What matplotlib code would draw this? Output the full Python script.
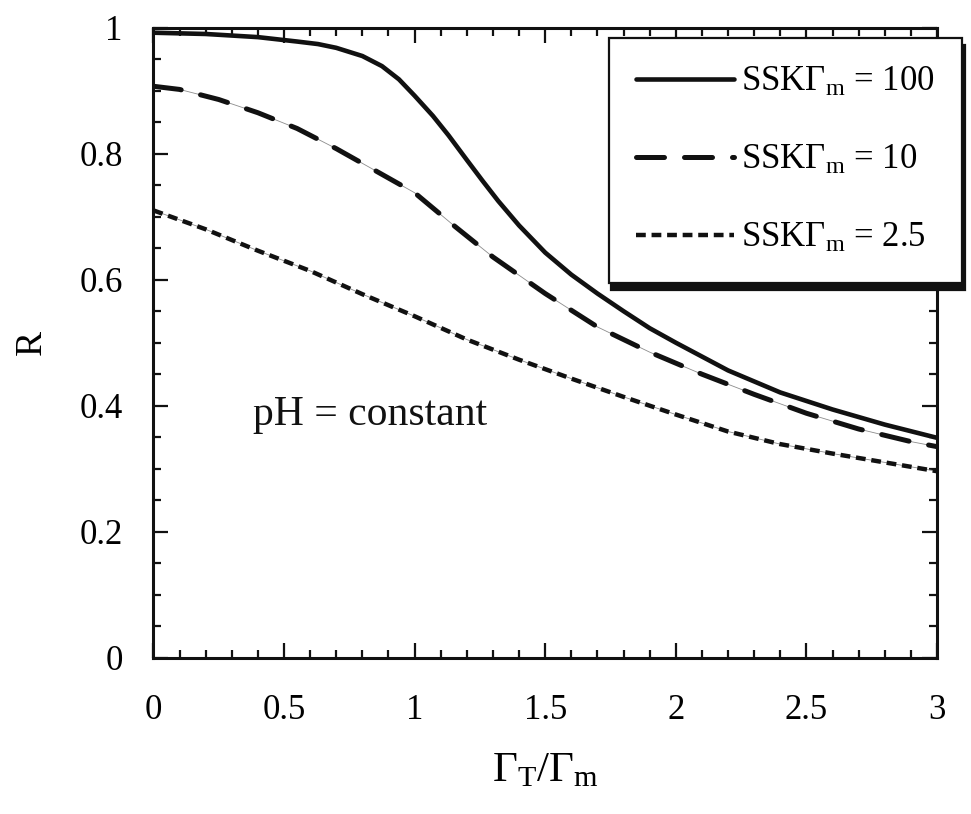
import numpy as np
import matplotlib
matplotlib.use("Agg")
import matplotlib.pyplot as plt
import matplotlib.ticker as ticker

matplotlib.rcParams["font.family"] = "serif"
matplotlib.rcParams["font.serif"] = ["Liberation Serif", "DejaVu Serif"]
matplotlib.rcParams["mathtext.fontset"] = "custom"
matplotlib.rcParams["mathtext.rm"] = "Liberation Serif"
matplotlib.rcParams["mathtext.it"] = "Liberation Serif:italic"
matplotlib.rcParams["mathtext.bf"] = "Liberation Serif:bold"

# R vs Gamma_T/Gamma_m at constant pH, three SSK*Gamma_m values
x_100 = [0, 0.2, 0.4, 0.55, 0.63, 0.7, 0.8, 0.875, 0.94, 1.0, 1.07, 1.13,
         1.2, 1.26, 1.32, 1.4, 1.5, 1.6, 1.7, 1.8, 1.9, 2.0, 2.2, 2.4, 2.6,
         2.8, 3.0]
r_100 = [0.992, 0.990, 0.985, 0.978, 0.974, 0.968, 0.955, 0.939, 0.918,
         0.892, 0.860, 0.829, 0.790, 0.757, 0.725, 0.686, 0.643, 0.608,
         0.578, 0.550, 0.523, 0.500, 0.456, 0.421, 0.394, 0.370, 0.349]

x_10 = [0, 0.1, 0.25, 0.4, 0.55, 0.7, 0.85, 1.0, 1.15, 1.3, 1.5, 1.7, 1.9,
        2.1, 2.3, 2.5, 2.7, 2.9, 3.0]
r_10 = [0.907, 0.902, 0.886, 0.865, 0.840, 0.808, 0.773, 0.738, 0.686,
        0.636, 0.578, 0.525, 0.485, 0.450, 0.418, 0.388, 0.363, 0.343, 0.335]

x_25 = [0, 0.2, 0.4, 0.6, 0.8, 1.0, 1.2, 1.4, 1.6, 1.8, 2.0, 2.2, 2.4, 2.6,
        2.8, 3.0]
r_25 = [0.710, 0.680, 0.646, 0.614, 0.577, 0.542, 0.505, 0.473, 0.443,
        0.414, 0.386, 0.359, 0.339, 0.324, 0.310, 0.296]

labels = [r"SSK$\Gamma_\mathrm{m}$ = 100",
          r"SSK$\Gamma_\mathrm{m}$ = 10",
          r"SSK$\Gamma_\mathrm{m}$ = 2.5"]

fig = plt.figure(figsize=(9.71, 8.14), dpi=100)
ax = fig.add_axes([0.158, 0.192, 0.807, 0.774])

ink = "#111111"

ax.plot(x_100, r_100, color=ink, lw=3.3, solid_capstyle="round",
        solid_joinstyle="round", label=labels[0])

# thin trace between the dashes
ax.plot(x_10, r_10, color="0.55", lw=0.6)
ax.plot(x_10, r_10, color=ink, lw=3.6, dashes=(5.6, 4.0),
        dash_capstyle="round", label=labels[1])

ax.plot(x_25, r_25, color="0.55", lw=0.6)
ax.plot(x_25, r_25, color=ink, lw=3.2, dashes=(2.2, 1.3),
        label=labels[2])

ax.set_xlim(0, 3)
ax.set_ylim(0, 1)
ax.xaxis.set_major_locator(ticker.MultipleLocator(0.5))
ax.xaxis.set_minor_locator(ticker.MultipleLocator(0.1))
ax.yaxis.set_major_locator(ticker.MultipleLocator(0.2))
ax.yaxis.set_minor_locator(ticker.MultipleLocator(0.05))
ax.xaxis.set_major_formatter(ticker.FormatStrFormatter("%g"))
ax.yaxis.set_major_formatter(ticker.FormatStrFormatter("%g"))

ax.tick_params(which="both", direction="in", top=True, right=True,
               color=ink, width=1.6)
ax.tick_params(which="major", length=11, labelsize=25)
ax.tick_params(axis="x", which="major", pad=26)
ax.tick_params(axis="y", which="major", pad=22)
ax.tick_params(which="minor", length=6)
for sp in ax.spines.values():
    sp.set_linewidth(2.2)
    sp.set_color(ink)

ax.set_xlabel(r"$\Gamma_\mathrm{T}/\Gamma_\mathrm{m}$", fontsize=31,
              labelpad=18)
ax.set_ylabel("R", fontsize=27, labelpad=22)

ax.text(0.83, 0.386, "pH = constant", fontsize=30, ha="center",
        va="center", color=ink)

leg = ax.legend(loc="upper right", bbox_to_anchor=(962 / 971, 1 - 38 / 814),
                bbox_transform=fig.transFigure, borderaxespad=0,
                fontsize=25, handlelength=2.8, handletextpad=0.2,
                labelspacing=1.3, borderpad=0.8, fancybox=False,
                shadow={"ox": 2, "oy": -5, "facecolor": ink,
                        "edgecolor": ink, "alpha": 1})
leg.get_frame().set_edgecolor(ink)
leg.get_frame().set_linewidth(1.6)
leg.set_zorder(5)

fig.savefig("out.png", dpi=100)
